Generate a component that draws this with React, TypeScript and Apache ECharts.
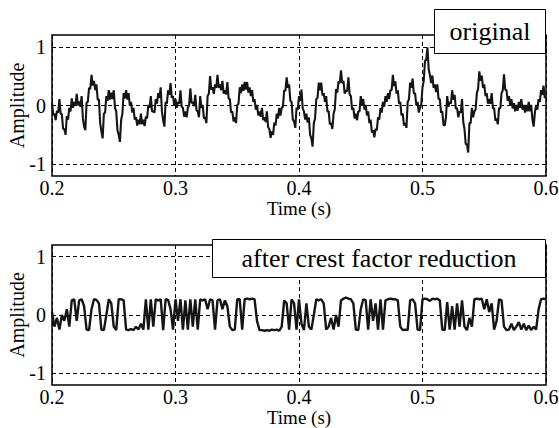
import React, { useEffect, useRef } from "react";
import * as echarts from "echarts";

const TIME_START = 0.2;
const STEP_ORIGINAL = 0.001;
const STEP_REDUCED = 0.002;
const X_MIN = 0.2;
const X_MAX = 0.6;
const Y_MIN = -1.2;
const Y_MAX = 1.2;
const Y_GRID = [-1, 0, 1];
const AXIS_TITLE_X = "Time (s)";
const AXIS_TITLE_Y = "Amplitude";
const LEGEND_TOP = "original";
const LEGEND_BOTTOM = "after crest factor reduction";

const ORIGINAL = [
  0.05, -0.16, -0.14, -0.25, -0.09, -0.12, 0.11, -0.14, -0.15, -0.4,
  -0.4, -0.5, -0.18, -0.24, -0.04, -0.1, 0.12, -0.04, 0.06, 0.0,
  0.2, 0.0, 0.07, -0.02, 0.16, -0.22, -0.36, -0.42, 0.05, 0.06,
  0.3, 0.28, 0.52, 0.34, 0.42, 0.26, 0.36, 0.1, 0.1, -0.3,
  -0.44, -0.56, -0.14, -0.12, 0.16, 0.08, 0.26, 0.1, 0.22, 0.11,
  0.26, -0.04, -0.1, -0.42, -0.5, -0.62, -0.24, -0.14, 0.21, 0.12,
  0.26, 0.1, 0.21, 0.0, 0.06, -0.12, -0.04, -0.24, -0.2, -0.34,
  -0.24, -0.32, -0.14, -0.32, -0.24, -0.35, -0.19, -0.22, 0.01, -0.04,
  0.16, -0.1, -0.1, -0.12, 0.11, 0.03, 0.21, 0.13, 0.31, -0.1,
  -0.25, -0.36, 0.06, 0.03, 0.26, 0.18, 0.38, 0.13, 0.16, 0.0,
  0.11, -0.04, 0.06, 0.03, 0.26, -0.02, -0.04, -0.19, -0.1, -0.2,
  -0.04, 0.0, 0.29, 0.04, 0.06, -0.01, 0.18, -0.08, -0.1, -0.2,
  0.16, -0.04, 0.01, -0.22, -0.2, -0.3, 0.16, 0.2, 0.5, 0.27,
  0.31, 0.2, 0.36, 0.3, 0.52, 0.3, 0.36, 0.26, 0.42, 0.2,
  0.26, 0.19, 0.4, 0.12, 0.11, -0.12, -0.1, -0.27, -0.2, -0.3,
  0.01, 0.03, 0.31, 0.21, 0.36, 0.25, 0.4, 0.27, 0.4, 0.22,
  0.31, 0.16, 0.26, 0.06, 0.11, -0.07, 0.01, -0.17, -0.1, -0.19,
  -0.04, -0.25, -0.2, -0.28, -0.1, -0.37, -0.4, -0.55, -0.44, -0.5,
  -0.29, -0.34, -0.14, -0.22, -0.04, -0.17, -0.04, -0.02, 0.26, 0.25,
  0.48, 0.3, 0.36, 0.08, 0.06, -0.24, -0.27, -0.38, -0.04, -0.07,
  0.16, 0.08, 0.27, -0.05, -0.1, -0.24, -0.14, -0.29, -0.2, -0.5,
  -0.56, -0.7, -0.3, -0.22, 0.11, 0.13, 0.39, 0.26, 0.39, 0.17,
  0.21, 0.06, 0.16, -0.1, -0.1, -0.32, -0.3, -0.4, -0.14, -0.06,
  0.28, 0.22, 0.41, 0.38, 0.6, 0.38, 0.42, 0.2, 0.26, 0.24,
  0.48, 0.19, 0.16, -0.07, -0.04, -0.22, -0.14, -0.25, -0.1, -0.1,
  0.16, 0.0, 0.11, -0.07, 0.01, -0.17, -0.1, -0.3, -0.24, -0.46,
  -0.42, -0.54, -0.4, -0.42, -0.2, -0.24, -0.04, -0.12, 0.06, -0.02,
  0.16, 0.06, 0.21, 0.11, 0.26, 0.26, 0.52, 0.33, 0.41, 0.2,
  0.26, 0.03, 0.06, -0.17, -0.14, -0.34, -0.3, -0.38, 0.06, 0.1,
  0.39, 0.3, 0.46, 0.2, 0.21, 0.0, 0.06, -0.12, -0.04, 0.02,
  0.31, 0.42, 0.76, 0.78, 0.99, 0.62, 0.52, 0.38, 0.51, 0.3,
  0.36, 0.23, 0.36, 0.11, 0.11, -0.12, -0.1, -0.33, -0.34, -0.2,
  0.16, -0.02, 0.06, 0.03, 0.26, 0.1, 0.18, -0.06, -0.04, -0.2,
  -0.1, -0.12, 0.11, -0.28, -0.4, -0.66, -0.66, -0.8, -0.3, -0.3,
  -0.04, -0.2, -0.1, -0.07, 0.21, 0.28, 0.58, 0.42, 0.51, 0.3,
  0.36, 0.16, 0.21, 0.03, 0.11, 0.03, 0.21, -0.05, -0.04, -0.26,
  -0.22, -0.32, -0.04, -0.05, 0.21, 0.26, 0.53, 0.27, 0.26, 0.08,
  0.16, 0.0, 0.11, -0.05, 0.04, -0.1, 0.01, -0.09, 0.06, -0.04,
  0.11, -0.07, 0.01, -0.12, 0.01, -0.1, 0.06, -0.1, 0.01, -0.24,
  -0.36, -0.12, 0.01, -0.07, 0.11, 0.06, 0.26, 0.18, 0.34, 0.13,
  0.16,
];

const REDUCED = [
  0.05, -0.2, -0.05, -0.25, 0.0, -0.1, 0.1, -0.2, 0.25, 0.27,
  -0.1, 0.25, 0.27, 0.15, -0.25, -0.26, 0.1, 0.27, 0.26, 0.2,
  -0.25, -0.26, 0.0, 0.27, 0.2, -0.2, -0.26, 0.27, 0.27, 0.25,
  -0.25, -0.26, -0.24, -0.26, -0.2, -0.25, -0.15, -0.25, 0.27, -0.25,
  0.27, -0.2, 0.27, 0.25, 0.27, -0.26, 0.27, 0.26, 0.1, -0.25,
  0.27, -0.1, 0.27, -0.25, 0.25, -0.25, 0.27, -0.2, 0.27, -0.25,
  0.27, 0.25, 0.27, 0.1, 0.27, 0.25, -0.25, 0.25, 0.27, 0.1,
  0.25, 0.15, -0.2, -0.26, -0.25, 0.27, 0.27, -0.25, 0.27, 0.28,
  0.27, 0.28, 0.27, -0.1, -0.26, -0.26, -0.27, -0.26, -0.27, -0.25,
  -0.26, -0.25, -0.27, -0.2, 0.25, 0.2, -0.25, 0.27, 0.2, -0.25,
  0.27, -0.15, -0.26, 0.2, -0.2, -0.25, 0.0, 0.27, 0.25, 0.27,
  0.2, -0.25, -0.2, -0.05, -0.25, 0.0, -0.2, 0.25, 0.28, 0.3,
  0.28, 0.27, 0.2, -0.25, -0.26, 0.1, 0.27, 0.25, -0.25, 0.27,
  -0.1, 0.2, -0.25, 0.27, -0.25, 0.25, 0.27, 0.28, 0.27, 0.27,
  0.25, -0.2, -0.26, -0.25, -0.26, 0.25, 0.27, 0.2, -0.25, -0.26,
  0.27, 0.28, 0.27, 0.24, 0.28, 0.27, 0.28, 0.25, -0.25, -0.26,
  0.22, -0.25, 0.15, -0.25, 0.2, -0.2, 0.25, -0.2, -0.26, -0.05,
  -0.2, 0.27, 0.28, 0.27, 0.28, 0.1, 0.27, 0.05, 0.2, -0.25,
  -0.1, 0.27, 0.25, -0.2, -0.26, -0.25, -0.15, -0.26, -0.2, -0.12,
  -0.25, -0.15, -0.26, -0.18, -0.26, -0.2, -0.25, 0.1, 0.27, 0.28,
  0.27,
];

const FONT = "Liberation Serif";

function toPairs(values: number[], step: number) {
  return values.map((v, i) => [TIME_START + step * i, v]);
}

export default function App() {
  const ref = useRef<HTMLDivElement>(null);
  useEffect(() => {
    if (!ref.current) return;
    const chart = echarts.init(ref.current, undefined, { renderer: "svg" });
    const grids = [
      { left: 52, right: 13, top: 35, height: 141 },
      { left: 52, right: 13, top: 245, height: 140 },
    ];
    const xAxis = grids.map((_, gi) => ({
      type: "value" as const,
      gridIndex: gi,
      min: X_MIN,
      max: X_MAX,
      interval: 0.1,
      name: AXIS_TITLE_X,
      nameLocation: "middle" as const,
      nameGap: 23,
      nameMoveOverlap: false,
      nameTextStyle: { fontFamily: FONT, fontSize: 19, color: "#000" },
      axisLine: { show: false },
      axisTick: { show: false },
      axisLabel: {
        fontFamily: FONT,
        fontSize: 20,
        color: "#000",
        margin: 2,
        formatter: (v: number) => v.toFixed(1),
      },
      splitLine: {
        show: true,
        lineStyle: { color: "#000", width: 1, type: [4, 3] },
      },
    }));
    const yAxis = grids.map((_, gi) => ({
      type: "value" as const,
      gridIndex: gi,
      min: Y_MIN,
      max: Y_MAX,
      interval: 0.2,
      name: AXIS_TITLE_Y,
      nameLocation: "middle" as const,
      nameRotate: 90,
      nameGap: 25,
      nameMoveOverlap: false,
      nameTextStyle: { fontFamily: FONT, fontSize: 20, color: "#000" },
      axisLine: { show: false },
      axisTick: { show: false },
      splitLine: { show: false },
      axisLabel: {
        fontFamily: FONT,
        fontSize: 20,
        color: "#000",
        margin: 6,
        formatter: (v: number) =>
          Math.abs(v - Math.round(v)) < 1e-6 ? String(Math.round(v) === 0 ? 0 : Math.round(v)) : "",
      },
    }));
    const mkGrid = {
      silent: true,
      symbol: "none",
      z: 1,
      label: { show: false },
      lineStyle: { color: "#000", width: 1, type: [4, 3] },
      data: Y_GRID.map((y) => ({ yAxis: y })),
    };
    chart.setOption({
      animation: false,
      backgroundColor: "#fff",
      textStyle: { fontFamily: FONT },
      grid: grids.map((g) => ({
        ...g,
        show: true,
        borderColor: "#000",
        borderWidth: 1.5,
        backgroundColor: "transparent",
        containLabel: false,
        outerBoundsMode: "none",
      })),
      xAxis,
      yAxis,
      series: [
        {
          type: "line",
          xAxisIndex: 0,
          yAxisIndex: 0,
          data: toPairs(ORIGINAL, STEP_ORIGINAL),
          symbol: "none",
          z: 3,
          lineStyle: { color: "#151515", width: 2.1 },
          markLine: mkGrid,
        },
        {
          type: "line",
          xAxisIndex: 1,
          yAxisIndex: 1,
          data: toPairs(REDUCED, STEP_REDUCED),
          symbol: "none",
          z: 3,
          lineStyle: { color: "#151515", width: 2.4 },
          markLine: mkGrid,
        },
      ],
      graphic: [
        {
          type: "rect",
          z: 100,
          shape: { x: 434.5, y: 9.5, width: 111, height: 44 },
          style: { fill: "#fff", stroke: "#000", lineWidth: 1 },
        },
        {
          type: "text",
          z: 101,
          x: 490,
          y: 31,
          style: {
            text: LEGEND_TOP,
            fontFamily: FONT,
            fontSize: 26,
            fill: "#000",
            align: "center",
            verticalAlign: "middle",
          },
        },
        {
          type: "rect",
          z: 100,
          shape: { x: 212.5, y: 239.5, width: 333, height: 38 },
          style: { fill: "#fff", stroke: "#000", lineWidth: 1 },
        },
        {
          type: "text",
          z: 101,
          x: 379,
          y: 258.5,
          style: {
            text: LEGEND_BOTTOM,
            fontFamily: FONT,
            fontSize: 26,
            fill: "#000",
            align: "center",
            verticalAlign: "middle",
          },
        },
      ],
    });
    return () => chart.dispose();
  }, []);
  return (
    <div
      ref={ref}
      style={{ position: "absolute", left: 0, top: 0, width: 559, height: 428 }}
    />
  );
}
